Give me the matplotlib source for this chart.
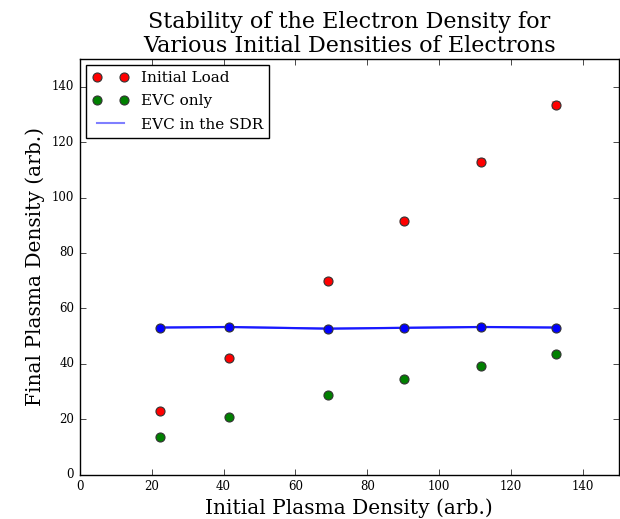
import matplotlib
matplotlib.use("Agg")
import matplotlib.pyplot as plt

plt.style.use("classic")
plt.rcParams["font.family"] = ["DejaVu Serif"]

initial_x = [22.2, 41.4, 69.1, 90.2, 111.7, 132.6]
initial_load = [23.0, 42.0, 70.0, 91.4, 113.0, 133.4]
initial_err = [0.6, 0.6, 0.8, 1.0, 1.3, 1.4]
evc_only = [13.7, 20.9, 28.7, 34.4, 39.1, 43.5]
evc_err = [0.5, 0.5, 0.6, 0.6, 0.7, 0.7]
evc_sdr = [53.1, 53.3, 52.7, 53.0, 53.3, 53.1]

title = "Stability of the Electron Density for\nVarious Initial Densities of Electrons"
xlabel = "Initial Plasma Density (arb.)"
ylabel = "Final Plasma Density (arb.)"

fig = plt.figure(figsize=(6.2, 5.19), dpi=100, facecolor="white")
ax = fig.add_axes([79.7 / 620, 44.3 / 519, (619 - 79.7) / 620, (474.7 - 59) / 519])

ax.errorbar(initial_x, initial_load, yerr=initial_err, fmt="none",
            ecolor=(1, 0.6, 0.6), elinewidth=6, capsize=0)
ax.errorbar(initial_x, evc_only, yerr=evc_err, fmt="none",
            ecolor=(0.6, 0.8, 0.6), elinewidth=6, capsize=0)
h1, = ax.plot(initial_x, initial_load, "o", color="red", markersize=6.5,
              markeredgecolor="#333333", markeredgewidth=0.8, label="Initial Load")
h2, = ax.plot(initial_x, evc_only, "o", color="green", markersize=6.5,
              markeredgecolor="#333333", markeredgewidth=0.8, label="EVC only")
ax.plot(initial_x, evc_sdr, "-", color="blue", lw=1.6, alpha=0.8)
h3, = ax.plot(initial_x, evc_sdr, "-", color="blue", lw=1.5, alpha=0.5, label="EVC in the SDR")
ax.plot(initial_x, evc_sdr, "o", color="blue", markersize=6.5,
        markeredgecolor="#333333", markeredgewidth=0.8)

ax.set_xlim(0, 150)
ax.set_ylim(0, 150)
ax.set_xticks(range(0, 141, 20))
ax.set_yticks(range(0, 141, 20))
ax.tick_params(labelsize=8.5)
ax.set_title(title, fontsize=16, pad=5, linespacing=1.15)
ax.set_xlabel(xlabel, fontsize=14.5, labelpad=4)
ax.set_ylabel(ylabel, fontsize=14.5)

leg = ax.legend(handles=[h1, h2, h3], loc="upper left", numpoints=2, fontsize=11,
                frameon=True, borderaxespad=0.4, labelspacing=0.6, handlelength=2.4)

fig.savefig("out.png", dpi=100, facecolor="white")
